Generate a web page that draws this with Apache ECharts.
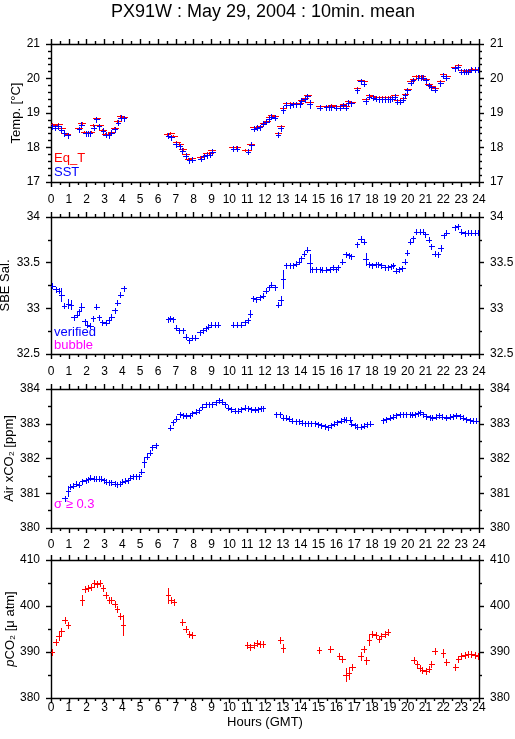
<!DOCTYPE html>
<html>
<head>
<meta charset="utf-8">
<script src="https://cdn.jsdelivr.net/npm/echarts/dist/echarts.min.js"></script>
<style>html,body{margin:0;padding:0;background:#fff}#c{width:515px;height:739px}</style>
</head>
<body>
<div id="c"></div>
<script>
// ---------- DATA : [hour (GMT), value, half error bar] ----------
const chartTitle = 'PX91W : May 29, 2004 : 10min. mean';
const hourRange = [0, 24, 1];

const tempRange = [17, 21, 1];
const salRange = [32.5, 34, 0.5];
const airRange = [380, 384, 1];
const pco2Range = [380, 410, 10];

const eqT = [
 [0.05,18.67],[0.22,18.66],[0.42,18.67],[0.58,18.56],[0.75,18.42],[0.9,18.38],
 [1.55,18.56],[1.72,18.70],[1.85,18.45],[2.05,18.45],[2.22,18.45],[2.38,18.65],[2.53,18.86],[2.7,18.64],[2.88,18.51],[3.03,18.40],[3.2,18.38],[3.37,18.46],[3.55,18.56],[3.72,18.76],[3.88,18.90],[4.05,18.88],
 [6.5,18.39],[6.7,18.41],[6.85,18.34],[7.03,18.16],[7.2,18.10],[7.38,17.95],[7.55,17.80],[7.7,17.68],[7.9,17.69],
 [8.37,17.72],[8.55,17.76],[8.72,17.84],[8.88,17.84],[9.02,17.92],
 [10.18,18.01],[10.4,18.01],[10.9,17.94],[11.05,17.94],[11.2,18.11],
 [11.36,18.58],[11.53,18.60],[11.7,18.62],[11.89,18.72],[12.07,18.77],[12.22,18.87],[12.35,18.93],[12.54,18.91],[12.73,18.41],[12.88,18.62],[13.01,19.15],
 [13.2,19.28],[13.38,19.28],[13.57,19.30],[13.75,19.30],[13.94,19.30],[14.04,19.38],[14.22,19.44],[14.37,19.53],[14.5,19.32],
 [15.07,19.20],[15.44,19.20],[15.6,19.20],[15.72,19.22],[16.0,19.20],[16.19,19.20],[16.37,19.25],[16.52,19.20],[16.65,19.35],[16.84,19.32],
 [17.16,19.73],[17.36,19.95],[17.53,19.93],[17.64,19.40],[17.83,19.51],[18.06,19.49],[18.24,19.47],[18.4,19.45],[18.57,19.45],[18.73,19.46],[18.9,19.45],[19.0,19.45],[19.14,19.46],[19.27,19.51],[19.4,19.37],[19.56,19.37],[19.74,19.44],[19.85,19.56],[19.98,19.70],[20.17,19.92],[20.3,19.99],
 [20.45,20.07],[20.62,20.07],[20.8,20.07],[21.01,19.99],[21.18,19.83],[21.33,19.79],[21.51,19.72],
 [21.83,19.92],[21.98,20.13],[22.17,20.08],
 [22.64,20.33],[22.82,20.38],[23.01,20.24],[23.15,20.24],[23.29,20.22],[23.42,20.24],[23.6,20.28],[23.77,20.28],[23.94,20.28]
];

const sst = [
 [0.08,18.61],[0.25,18.57],[0.42,18.62],[0.58,18.52],[0.73,18.41],[0.93,18.35,0.08],
 [1.57,18.53],[1.7,18.66],[1.94,18.42],[2.06,18.42],[2.17,18.42],[2.39,18.57,0.07],[2.54,18.82],[2.69,18.62],[2.92,18.48],[3.07,18.37],[3.25,18.36],[3.38,18.43],[3.57,18.53],[3.76,18.72],[3.91,18.86],[4.07,18.85,0.07],
 [6.56,18.34],[6.75,18.30],[6.99,18.10],[7.21,18.03],[7.36,17.90],[7.55,17.76],[7.74,17.63],[7.93,17.65],
 [8.39,17.67],[8.56,17.74],[8.75,17.78],[8.9,17.79],[9.05,17.87],
 [10.2,17.97],[10.43,17.97],[11.05,17.87],[11.23,18.07,0.1],
 [11.36,18.55,0.05],[11.53,18.57],[11.7,18.59],[11.89,18.69],[12.07,18.74],[12.22,18.83],[12.35,18.89],[12.54,18.86],[12.73,18.37],[12.88,18.56,0.07],[13.01,19.10,0.1],
 [13.2,19.24],[13.38,19.22],[13.57,19.26],[13.75,19.26],[13.94,19.26],[14.04,19.35],[14.22,19.40],[14.37,19.49],[14.5,19.27,0.12],
 [15.07,19.15],[15.44,19.17],[15.6,19.17],[15.72,19.17],[16.0,19.15],[16.19,19.15],[16.37,19.22],[16.52,19.15,0.07],[16.65,19.30],[16.84,19.28],
 [17.16,19.66,0.06],[17.36,19.92],[17.53,19.85,0.07],[17.64,19.35,0.08],[17.83,19.47],[18.06,19.44],[18.24,19.42],[18.4,19.40],[18.57,19.40],[18.73,19.40],[18.9,19.40],[19.0,19.40],[19.14,19.41],[19.27,19.47],[19.4,19.32],[19.56,19.32],[19.74,19.39],[19.85,19.51],[19.98,19.66],[20.17,19.88],[20.3,19.95],
 [20.58,20.02],[20.72,20.02],[20.86,20.02],[21.01,19.95],[21.18,19.80],[21.33,19.75],[21.51,19.68],
 [21.83,19.86,0.07],[21.98,20.08],[22.17,20.02],
 [22.64,20.29,0.06],[22.82,20.33],[23.01,20.20],[23.15,20.20],[23.29,20.20],[23.38,20.20],[23.57,20.26],[23.75,20.26],[23.94,20.26]
];

const salinity = [
 [0.07,33.25],[0.26,33.21],[0.45,33.19],[0.58,33.15,0.07],[0.73,33.03],[0.95,33.05,0.05],[1.1,33.04,0.05],[1.27,32.90],[1.46,32.93],[1.57,32.97],[1.7,33.02,0.04],[1.89,32.86],[2.02,32.82],[2.2,32.81],[2.36,32.89],[2.54,33.02],[2.69,32.90],[2.88,32.85],[3.07,32.84],[3.25,32.87],[3.38,32.91],[3.57,32.98],[3.72,33.06],[3.89,33.15],[4.07,33.22],
 [6.56,32.88],[6.7,32.89],[6.84,32.88],[7.03,32.79],[7.2,32.76],[7.38,32.76],[7.55,32.69],[7.74,32.65],[7.93,32.68],[8.1,32.68],[8.34,32.74],[8.52,32.76],[8.67,32.78],[8.8,32.80],[8.99,32.82],[9.17,32.82],[9.36,32.82],
 [10.2,32.82],[10.43,32.82],[10.67,32.82],[10.86,32.85],[11.05,32.87],[11.16,32.94,0.04],
 [11.33,33.11],[11.51,33.10],[11.7,33.12],[11.89,33.14],[12.04,33.19],[12.22,33.23],[12.35,33.26],[12.54,33.23],[12.73,33.04],[12.88,33.09,0.05],[13.01,33.32,0.1],
 [13.2,33.47],[13.38,33.47],[13.57,33.47],[13.76,33.49],[13.91,33.51],[14.04,33.55],[14.19,33.60],[14.37,33.64],[14.5,33.50,0.1],
 [14.65,33.43],[14.85,33.43],[15.07,33.43],[15.21,33.42],[15.44,33.42],[15.63,33.43],[15.81,33.45],[15.96,33.43],[16.09,33.45],[16.34,33.51],[16.52,33.59],[16.71,33.58],[16.84,33.57],
 [17.16,33.70],[17.36,33.76],[17.53,33.73],[17.64,33.54,0.07],[17.83,33.48],[18.02,33.47],[18.21,33.48],[18.34,33.48],[18.52,33.47],[18.71,33.45],[18.9,33.45],[19.08,33.46],[19.18,33.47,0.02],[19.33,33.41],[19.51,33.43],[19.7,33.44],[19.83,33.51],[19.96,33.61],[20.15,33.73],[20.3,33.77],
 [20.49,33.84],[20.68,33.84],[20.86,33.84],[20.99,33.81],[21.18,33.75],[21.33,33.68],[21.51,33.60],[21.7,33.59],[21.85,33.66,0.03],[22.02,33.80],[22.17,33.83],
 [22.63,33.89],[22.82,33.90],[23.01,33.84],[23.2,33.82],[23.38,33.83],[23.57,33.83],[23.76,33.83],[23.94,33.83]
];

const airXco2 = [
 [0.77,380.85],[0.95,381.06,0.15],[1.08,381.18],[1.23,381.21],[1.42,381.28],[1.57,381.25],[1.76,381.35],[1.94,381.37],[2.07,381.40],[2.2,381.44],[2.39,381.42],[2.54,381.42],[2.68,381.42],[2.82,381.42],[2.95,381.37],[3.1,381.33],[3.25,381.31],[3.38,381.31],[3.57,381.28],[3.7,381.26],[3.85,381.28],[4.0,381.33],[4.13,381.36],[4.32,381.38],[4.45,381.45],[4.6,381.49],[4.79,381.49],[4.93,381.49],[5.07,381.62],[5.21,381.90,0.15],[5.38,382.05],[5.53,382.17,0.08],[5.68,382.33],[5.87,382.38],
 [6.69,382.88],[6.84,383.04],[7.03,383.15],[7.21,383.27],[7.4,383.25],[7.59,383.23],[7.78,383.25],[7.93,383.30],[8.11,383.35],[8.3,383.39],[8.49,383.49],[8.67,383.56],[8.86,383.56],[9.05,383.56],[9.23,383.62],[9.42,383.68],[9.61,383.63],[9.74,383.56],[9.93,383.46],[10.11,383.42],[10.3,383.37],[10.49,383.37],[10.67,383.42],[10.86,383.46],[11.05,383.44],[11.23,383.42],[11.42,383.41],[11.6,383.42],[11.75,383.44],[11.89,383.44],
 [12.64,383.27],[12.82,383.27],[13.01,383.17],[13.2,383.17],[13.35,383.15],[13.53,383.08],[13.72,383.07],[13.91,383.07],[14.09,383.03],[14.22,383.02],[14.41,383.02],[14.6,383.02],[14.79,383.02],[14.97,382.99],[15.16,382.96],[15.35,382.93],[15.53,382.90],[15.68,382.96],[15.87,383.00],[16.06,383.04],[16.24,383.08],[16.43,383.13],[16.56,383.11],[16.75,383.11],[16.84,383.00],[17.03,382.96],[17.18,382.91],[17.36,382.91],[17.55,382.94],[17.74,382.98],[17.91,383.00],
 [18.62,383.10],[18.8,383.13],[18.99,383.17],[19.18,383.20],[19.36,383.25],[19.55,383.27],[19.74,383.27],[19.92,383.27],[20.11,383.27],[20.25,383.26],[20.39,383.27],[20.58,383.30],[20.71,383.33],[20.86,383.27],[21.05,383.22],[21.23,383.19],[21.38,383.17],[21.57,383.20],[21.76,383.25],[21.94,383.20],[22.17,383.17],[22.36,383.20],[22.54,383.22],[22.73,383.25],[22.92,383.22],[23.1,383.17],[23.29,383.13],[23.48,383.10],[23.66,383.08],[23.85,383.08]
];

const pco2 = [
 [0.05,390.1,0.6],[0.26,392.2,0.5],[0.43,393.5,0.8],[0.58,394.5,0.8],[0.77,397.0,0.4],[0.95,395.9,0.7],
 [1.74,401.3,1.0],[1.89,403.6],[2.07,404.0],[2.26,404.2],[2.41,404.9],[2.58,404.8,0.6],[2.73,404.9],[2.92,403.9],[3.07,402.4],[3.25,401.3],[3.38,401.3],[3.57,400.4],[3.7,399.4],[3.89,397.9],[4.04,395.9,2.2],
 [6.56,402.3,1.7],[6.71,401.3],[6.88,400.8],
 [7.36,396.5,0.5],[7.55,395.1],[7.74,394.0],[7.93,393.6],
 [10.99,391.6,0.5],[11.18,391.1],[11.36,391.6],[11.53,392.0],[11.7,391.8],[11.89,391.8],
 [12.86,392.7],[13.01,390.9,0.8],
 [15.03,390.5],[15.66,390.6],[16.15,389.2],[16.34,388.5,0.5],[16.52,385.1,1.5],[16.71,385.5,1.3],[16.9,386.8],
 [17.36,389.1,0.8],[17.53,390.6],[17.68,388.2,0.8],[17.83,392.7,1.2],[18.02,393.9],[18.21,393.8,0.5],[18.39,392.8],[18.52,393.4],[18.71,394.0],[18.9,394.3],
 [20.34,388.2],[20.52,387.3,0.5],[20.67,386.5],[20.82,386.0],[21.01,385.8],[21.2,386.3],[21.33,387.5,0.6],[21.51,390.3,0.5],
 [21.98,389.8,0.8],[22.17,387.8,0.4],
 [22.67,386.8,0.7],[22.82,388.5,0.5],[23.01,389.1],[23.2,389.4],[23.38,389.6],[23.57,389.6],[23.76,389.4],[23.94,389.1]
];

// ---------- CHART ----------
const FONT = '"Liberation Sans", Arial, Helvetica, sans-serif';
const BLUE = '#0000ff', RED = '#ff0000', MAGENTA = '#ff00ff';

const panels = [
  {top: 44,  height: 138, range: tempRange, minor: 5, name: 'Temp. [°C]', nameGap: 28,
   botLabels: true, botMargin: 12, topLabels: false, topMargin: 0},
  {top: 217, height: 137, range: salRange, minor: 2, name: 'SBE Sal.', nameGap: 39,
   botLabels: false, botMargin: 0, topLabels: false, topMargin: 0},
  {top: 389, height: 139, range: airRange, minor: 2, name: 'Air xCO₂ [ppm]', nameGap: 35,
   botLabels: false, botMargin: 0, topLabels: true, topMargin: 11},
  {top: 560, height: 138, range: pco2Range, minor: 2, name: '{i|p}CO₂ [μ atm]', nameGap: 34,
   botLabels: true, botMargin: 4, topLabels: true, topMargin: 9}
];

const grids = [], xAxes = [], yAxes = [];
const lineStyle = {color: '#000', width: 1.4};
const labelStyle = {color: '#000', fontSize: 12, fontFamily: FONT};

panels.forEach((p, i) => {
  grids.push({left: 51, width: 428, top: p.top, height: p.height, containLabel: false, outerBoundsMode: 'none'});
  ['bottom', 'top'].forEach(pos => {
    const show = pos === 'bottom' ? p.botLabels : p.topLabels;
    const ax = {
      type: 'value', gridIndex: i, position: pos,
      min: hourRange[0], max: hourRange[1], interval: hourRange[2],
      axisLine: {show: true, onZero: false, lineStyle},
      axisTick: {show: true, inside: false, length: 5, lineStyle},
      minorTick: {show: true, splitNumber: 2, length: 3, lineStyle},
      splitLine: {show: false}, minorSplitLine: {show: false},
      axisLabel: {show: show, margin: pos === 'bottom' ? p.botMargin : p.topMargin,
                  showMinLabel: true, showMaxLabel: true, hideOverlap: false, ...labelStyle}
    };
    if (i === 3 && pos === 'bottom') {
      ax.name = 'Hours (GMT)';
      ax.nameLocation = 'middle';
      ax.nameGap = 18;
      ax.nameMoveOverlap = false;
      ax.nameTextStyle = {color: '#000', fontSize: 13, fontFamily: FONT};
    }
    xAxes.push(ax);
  });
  ['left', 'right'].forEach(pos => {
    const ax = {
      type: 'value', gridIndex: i, position: pos,
      min: p.range[0], max: p.range[1], interval: p.range[2],
      axisLine: {show: true, onZero: false, lineStyle},
      axisTick: {show: true, inside: false, length: 5, lineStyle},
      minorTick: {show: true, splitNumber: p.minor, length: 3, lineStyle},
      splitLine: {show: false}, minorSplitLine: {show: false},
      axisLabel: {show: true, margin: 11, showMinLabel: true, showMaxLabel: true, hideOverlap: false, ...labelStyle}
    };
    if (pos === 'left') {
      ax.name = p.name;
      ax.nameLocation = 'middle';
      ax.nameRotate = 90;
      ax.nameGap = p.nameGap;
      ax.nameMoveOverlap = false;
      ax.nameTextStyle = {color: '#000', fontSize: 13, fontFamily: FONT,
        rich: {i: {fontStyle: 'italic', fontSize: 13, fontFamily: FONT, color: '#000'}}};
    }
    yAxes.push(ax);
  });
});

function crossSeries(name, data, panel, color, halfW, minHalfH) {
  return {
    type: 'custom', name: name,
    xAxisIndex: panel * 2, yAxisIndex: panel * 2,
    data: data.map(d => [d[0], d[1], d[2] || 0]),
    encode: {x: 0, y: 1},
    clip: true, animation: false, silent: true,
    renderItem: function (params, api) {
      const h = api.value(0), v = api.value(1), e = api.value(2);
      const c = api.coord([h, v]);
      const l = api.coord([h - halfW, v]);
      const r = api.coord([h + halfW, v]);
      const t = api.coord([h, v + e]);
      const b = api.coord([h, v - e]);
      const cy = Math.round(c[1]) + 0.5, cx = Math.round(c[0]) + 0.5;
      const y1 = Math.round(Math.min(t[1], c[1] - minHalfH));
      const y2 = Math.round(Math.max(b[1], c[1] + minHalfH)) + 1;
      const x1 = Math.round(l[0]), x2 = Math.round(r[0]) + 1;
      return {
        type: 'group',
        children: [
          {type: 'line', shape: {x1: x1, y1: cy, x2: x2, y2: cy}, style: {stroke: color, lineWidth: 1}},
          {type: 'line', shape: {x1: cx, y1: y1, x2: cx, y2: y2}, style: {stroke: color, lineWidth: 1}}
        ]
      };
    }
  };
}

const series = [
  crossSeries('Eq_T', eqT, 0, RED, 0.19, 1),
  crossSeries('SST', sst, 0, BLUE, 0.13, 2.5),
  crossSeries('verified', salinity, 1, BLUE, 0.13, 2.5),
  crossSeries('Air xCO2', airXco2, 2, BLUE, 0.13, 2.5),
  crossSeries('pCO2', pco2, 3, RED, 0.13, 3)
];

function label(text, x, y, color, size) {
  return {type: 'text', x: x, y: y, silent: true,
    style: {text: text, fill: color, font: (size || 13) + 'px ' + FONT, textVerticalAlign: 'middle', textAlign: 'left'}};
}

const chart = echarts.init(document.getElementById('c'), null, {renderer: 'canvas'});
chart.setOption({
  animation: false,
  backgroundColor: '#fff',
  grid: grids, xAxis: xAxes, yAxis: yAxes, series: series,
  graphic: [
    {type: 'text', x: 263, y: 12, silent: true,
     style: {text: chartTitle, fill: '#000', font: '18px ' + FONT, textAlign: 'center', textVerticalAlign: 'middle'}},
    label('Eq_T', 54, 158, RED),
    label('SST', 54, 172, BLUE),
    label('verified', 54, 332, BLUE),
    label('bubble', 54, 345, MAGENTA),
    label('σ ≥ 0.3', 54, 504, MAGENTA)
  ]
});
</script>
</body>
</html>
